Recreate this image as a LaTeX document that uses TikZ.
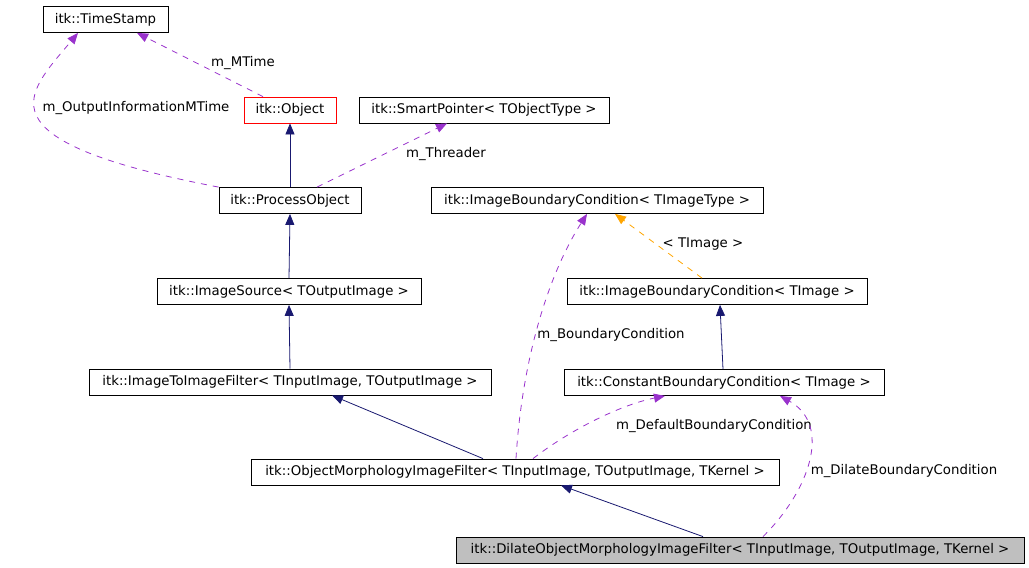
\documentclass[tikz,border=0pt]{standalone}
\usepackage{fontspec}
\setmainfont{DejaVu Sans}
\usepackage{tikz}
\usetikzlibrary{positioning,arrows.meta}
\definecolor{inhc}{RGB}{25,25,112}
\definecolor{usec}{RGB}{153,50,204}
\definecolor{tplc}{RGB}{255,165,0}
\definecolor{curc}{RGB}{191,191,191}

\begin{document}
\begin{tikzpicture}[x=1pt,y=-1pt,font=\fontsize{13.3}{16}\selectfont,>={Triangle[length=11pt,width=9pt]},line width=0.8pt,
  cls/.style={draw,inner sep=0pt,minimum height=26pt,fill=white},
  cur/.style={cls,fill=curc},
  inh/.style={->,draw=inhc},
  usage/.style={->,draw=usec,dash pattern=on 6pt off 6pt},
  tpl/.style={->,draw=tplc,dash pattern=on 6pt off 6pt},
  lbl/.style={inner sep=0pt}]
  \useasboundingbox (0,0) rectangle (1029,568);
  \node[cls,minimum width=125pt] (ts) at (105.5,19.5) {itk::TimeStamp};
  \node[cls,draw=red,minimum width=92pt] (obj) at (290,110) {itk::Object};
  \node[cls,minimum width=250pt] (sp) at (484,110) {itk::SmartPointer< TObjectType >};
  \node[cls,minimum width=142pt] (po) at (290,200.5) {itk::ProcessObject};
  \node[cls,minimum width=332pt] (ibct) at (597,200.5) {itk::ImageBoundaryCondition< TImageType >};
  \node[cls,minimum width=264pt] (isrc) at (289,291.5) {itk::ImageSource< TOutputImage >};
  \node[cls,minimum width=300pt] (ibc) at (717,291.5) {itk::ImageBoundaryCondition< TImage >};
  \node[cls,minimum width=402pt] (i2i) at (290,382) {itk::ImageToImageFilter< TInputImage, TOutputImage >};
  \node[cls,minimum width=320pt] (cbc) at (724,382.5) {itk::ConstantBoundaryCondition< TImage >};
  \node[cls,minimum width=528pt] (omf) at (515,472) {itk::ObjectMorphologyImageFilter< TInputImage, TOutputImage, TKernel >};
  \node[cur,minimum width=568pt] (dil) at (740,550) {itk::DilateObjectMorphologyImageFilter< TInputImage, TOutputImage, TKernel >};
  \node[lbl] (lmtime) at (243,63) {m\_MTime};
  \node[lbl] (lout) at (136,108) {m\_OutputInformationMTime};
  \node[lbl] (lthr) at (446,154) {m\_Threader};
  \node[lbl] (ltimg) at (703,244) {< TImage >};
  \node[lbl] (lbnd) at (611,335) {m\_BoundaryCondition};
  \node[lbl] (ldef) at (714,426) {m\_DefaultBoundaryCondition};
  \node[lbl] (ldil) at (904,471) {m\_DilateBoundaryCondition};
  \draw[usage] ([xshift=-27pt]obj.north) -- ([xshift=31.5pt]ts.south);
  \draw[usage] (po.north west) .. controls (-27,140) and (28,93) .. ([xshift=-27.5pt]ts.south);
  \draw[inh] (po.north) -- (obj.south);
  \draw[usage] ([xshift=27pt]po.north) -- ([xshift=-37pt]sp.south);
  \draw[inh] (isrc.north) -- (po.south);
  \draw[inh] (i2i.north) -- (isrc.south);
  \draw[inh] ([xshift=-32pt]omf.north) -- ([xshift=42pt]i2i.south);
  \draw[inh] ([xshift=-37pt]dil.north) -- ([xshift=46pt]omf.south);
  \draw[tpl] ([xshift=-15pt]ibc.north) -- ([xshift=18pt]ibct.south);
  \draw[inh] ([xshift=-1pt]cbc.north) -- ([xshift=3pt]ibc.south);
  \draw[usage] ([xshift=1pt]omf.north) .. controls (522,360) and (548,275) .. ([xshift=-10pt]ibct.south);
  \draw[usage] ([xshift=18pt]omf.north) .. controls (570,430) and (620,405) .. ([xshift=-59pt]cbc.south);
  \draw[usage] ([xshift=23pt]dil.north) .. controls (810,490) and (832,425) .. ([xshift=56pt]cbc.south);
\end{tikzpicture}
\end{document}
